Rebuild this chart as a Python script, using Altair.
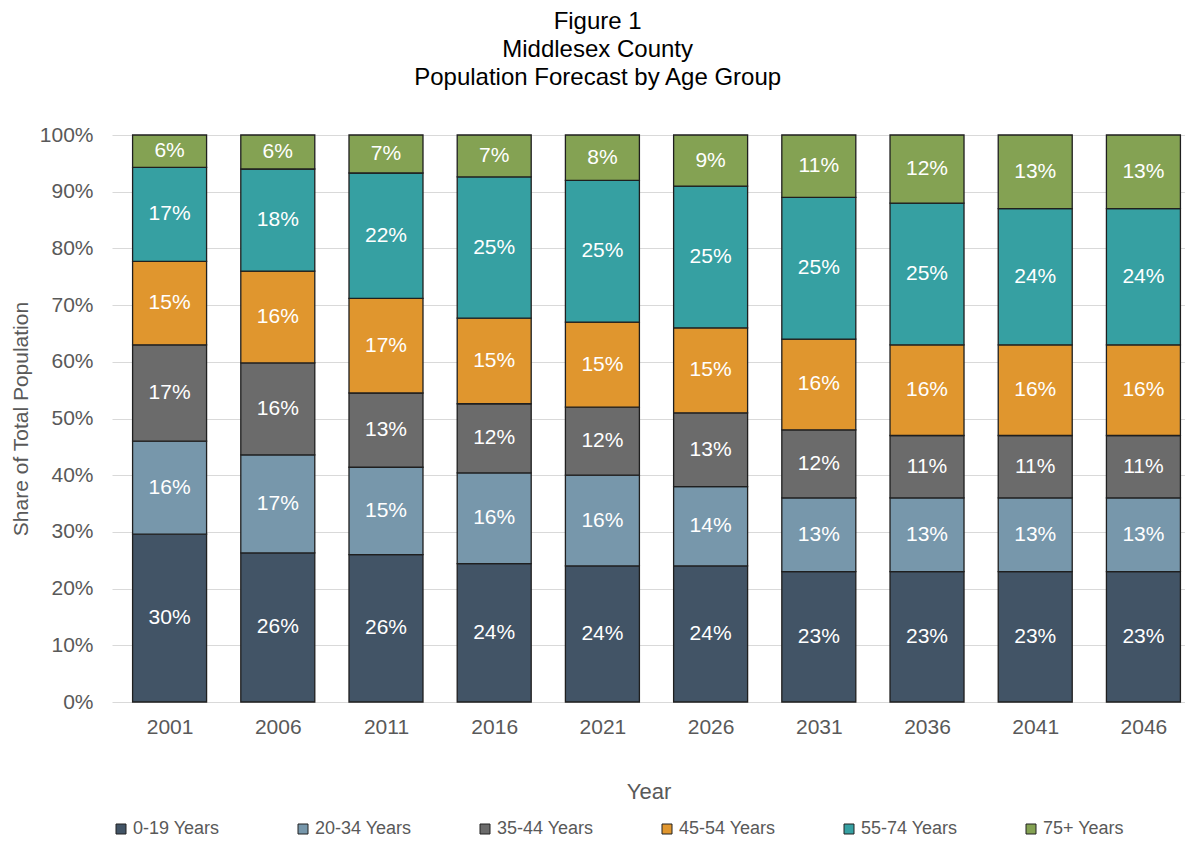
import altair as alt
import pandas as pd

years = [2001, 2006, 2011, 2016, 2021, 2026, 2031, 2036, 2041, 2046]
groups = ["0-19 Years", "20-34 Years", "35-44 Years", "45-54 Years", "55-74 Years", "75+ Years"]
colors = ["#425466", "#7797ab", "#6b6b6b", "#e0962e", "#36a0a2", "#84a253"]
tick_values = [0, 10, 20, 30, 40, 50, 60, 70, 80, 90, 100]

g_0_19 = [29.6, 26.3, 26.0, 24.4, 24.0, 24.0, 23.0, 23.0, 23.0, 23.0]
g_20_34 = [16.4, 17.3, 15.4, 16.0, 16.0, 14.0, 13.0, 13.0, 13.0, 13.0]
g_35_44 = [17.0, 16.2, 13.1, 12.2, 12.0, 13.0, 12.0, 11.0, 11.0, 11.0]
g_45_54 = [14.7, 16.2, 16.7, 15.1, 15.0, 15.0, 16.0, 16.0, 16.0, 16.0]
g_55_74 = [16.6, 18.0, 22.1, 24.9, 25.0, 25.0, 25.0, 25.0, 24.0, 24.0]
g_75p = [5.7, 6.0, 6.7, 7.4, 8.0, 9.0, 11.0, 12.0, 13.0, 13.0]
series = [g_0_19, g_20_34, g_35_44, g_45_54, g_55_74, g_75p]

rows = []
for gi, (g, vals) in enumerate(zip(groups, series)):
    for yr, v in zip(years, vals):
        rows.append({"year": yr, "group": g, "order": gi, "value": v})
df = pd.DataFrame(rows)

FONT = "Liberation Sans"
GRAY = "#595959"
YTITLE = "Share of Total Population"
W = 1073

base = alt.Chart(df).transform_stack(
    stack="value", groupby=["year"], as_=["y0", "y1"],
    sort=[alt.SortField("order", "ascending")]
).transform_calculate(
    mid="(datum.y0 + datum.y1) / 2",
    label="format(datum.value, '.0f') + '%'"
)

x_enc = alt.X(
    "year:Q", title="Year",
    scale=alt.Scale(domain=[1998.57, 2047.69], nice=False, zero=False),
    axis=alt.Axis(values=years, format="d", labelAngle=0, labelFontSize=21,
                  labelColor=GRAY, labelPadding=14, labelFlush=False, grid=False,
                  ticks=False, domain=False, titleFontSize=22, titleColor=GRAY,
                  titleFontWeight="normal", titlePadding=44),
)
y_axis = alt.Axis(values=tick_values, labelExpr="datum.value + '%'",
                  gridColor="#d9d9d9", gridWidth=1.2, domain=False, ticks=False,
                  labelFontSize=21, labelColor=GRAY, labelPadding=19,
                  titleFontSize=21, titleColor=GRAY, titleFontWeight="normal",
                  titlePadding=8)
y_scale = alt.Scale(domain=[0, 100], nice=False)

bars = base.mark_bar(width=74, stroke="#1f1f1f", strokeWidth=1.3).encode(
    x=x_enc,
    y=alt.Y("y0:Q", scale=y_scale, axis=y_axis, title=YTITLE),
    y2="y1:Q",
    color=alt.Color(
        "group:N",
        scale=alt.Scale(domain=groups, range=colors),
        legend=alt.Legend(orient="none", legendX=0, legendY=685, direction="horizontal",
                          columns=6, gridAlign="all", title=None, labelFontSize=18,
                          labelColor=GRAY, symbolType="square", symbolSize=100,
                          symbolStrokeColor="#222222", symbolStrokeWidth=1,
                          columnPadding=64, symbolOffset=0, labelOffset=3, padding=0),
    ),
)

labels = base.mark_text(color="white", fontSize=21, baseline="middle", font=FONT).encode(
    x=x_enc,
    y=alt.Y("mid:Q", scale=y_scale, axis=y_axis, title=YTITLE),
    text="label:N",
)

chart = alt.layer(bars, labels).properties(
    width=W,
    height=567,
    padding={"left": 2, "top": 2, "right": 0, "bottom": 0},
    title=alt.TitleParams(
        ["Figure 1", "Middlesex County", "Population Forecast by Age Group"],
        fontSize=24, font=FONT, fontWeight="normal", color="black",
        lineHeight=28, anchor="middle", frame="bounds", offset=34,
    ),
).configure(font=FONT).configure_view(stroke=None)

chart.save("out.html", embed_options={"renderer": "svg", "actions": False})
